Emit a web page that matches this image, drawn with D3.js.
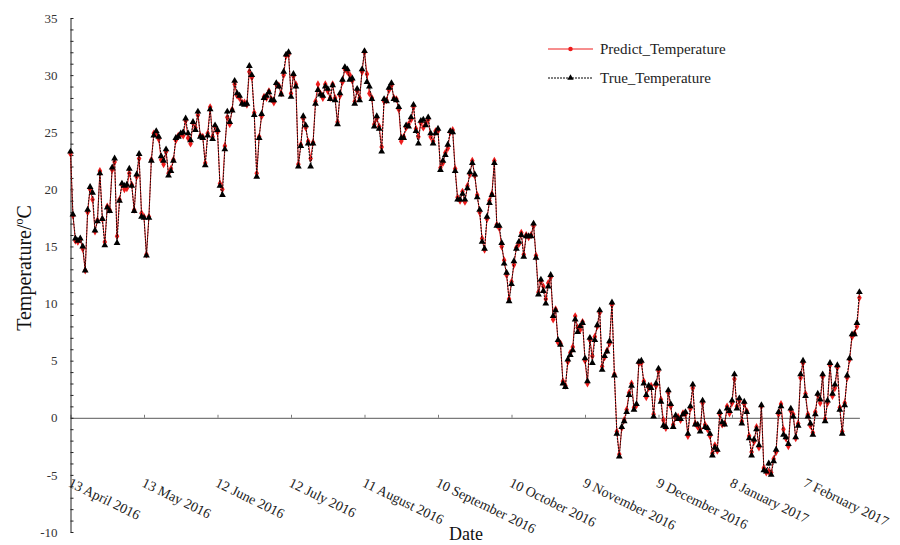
<!DOCTYPE html>
<html>
<head>
<meta charset="utf-8">
<script src="https://cdn.jsdelivr.net/npm/d3@7"></script>
<style>
  body { margin: 0; background: #fff; }
  svg { display: block; }
  text { font-family: "Liberation Serif", "Times New Roman", serif; }
</style>
</head>
<body>
<svg id="chart" width="900" height="545"></svg>
<script>
// Daily series starting on this date
const startDate = "2016-04-13";

const trueTemperature = [
  23.3, 17.8, 15.7, 15.5, 15.7, 15.0, 12.9, 18.2, 20.2, 19.7,
  16.4, 17.2, 21.4, 17.4, 15.1, 18.4, 18.1, 21.9, 22.7, 15.3,
  19.0, 20.5, 20.3, 20.4, 21.8, 20.3, 18.1, 21.3, 23.1, 17.6,
  17.5, 14.2, 17.5, 22.5, 24.7, 25.1, 24.6, 22.9, 22.5, 23.5,
  21.2, 21.6, 22.5, 24.5, 24.6, 24.9, 25.0, 26.2, 24.9, 24.3,
  25.9, 25.2, 26.8, 24.6, 24.5, 22.1, 24.7, 27.0, 24.4, 25.6,
  25.2, 20.3, 19.5, 23.5, 26.8, 25.9, 26.9, 29.5, 28.4, 28.2,
  27.5, 27.4, 27.5, 30.8, 30.0, 26.5, 21.1, 24.5, 26.6, 28.0,
  28.2, 28.5, 27.8, 27.8, 29.3, 29.0, 28.3, 30.3, 31.8, 32.0,
  28.1, 30.1, 29.0, 22.0, 23.8, 26.4, 25.6, 24.0, 22.0, 24.0,
  27.5, 28.7, 28.3, 28.2, 29.0, 28.8, 27.9, 29.1, 27.8, 25.7,
  28.4, 29.6, 30.7, 30.5, 29.6, 29.7, 27.5, 28.8, 27.8, 30.5,
  32.1, 29.4, 29.0, 27.9, 25.5, 26.4, 25.3, 23.3, 27.9, 27.7,
  28.9, 29.3, 27.9, 27.8, 27.2, 24.5, 24.5, 25.6, 25.5, 26.3,
  27.4, 25.1, 24.0, 26.0, 26.1, 25.6, 26.3, 24.9, 24.0, 24.9,
  25.3, 21.7, 22.5, 23.0, 23.9, 25.1, 25.0, 21.6, 19.1, 19.1,
  19.6, 19.1, 20.1, 21.5, 22.3, 21.3, 19.3, 18.2, 15.4, 14.8,
  17.6, 18.8, 19.5, 22.3, 16.8, 16.8, 15.3, 13.5, 12.7, 10.2,
  11.7, 13.7, 14.8, 15.4, 16.0, 14.1, 15.9, 15.9, 15.9, 17.0,
  14.0, 10.8, 12.1, 11.1, 10.0, 11.5, 12.5, 8.9, 9.4, 6.8,
  6.4, 3.0, 2.7, 5.1, 5.5, 5.9, 8.6, 7.5, 8.0, 8.3,
  5.2, 3.2, 7.0, 4.8, 6.8, 8.1, 9.4, 4.2, 5.4, 5.8,
  6.7, 10.1, 3.7, -1.4, -3.4, -0.8, -0.3, 0.5, 2.0, 2.8,
  0.7, 1.2, 4.9, 5.0, 3.0, 2.0, 2.8, 2.6, 0.1, 3.0,
  4.3, 1.4, -0.7, -0.8, 2.4, 1.2, -0.8, 0.2, -0.1, -0.1,
  0.3, 0.5, -1.4, 1.0, 2.9, -0.6, -0.6, -1.2, 1.5, -0.8,
  -0.9, -1.4, -3.3, -2.6, -2.8, 0.5, -0.4, -0.6, 0.8, 0.6,
  1.5, 3.8, 0.8, 1.7, -0.5, 1.4, 0.5, -1.8, -3.3, -1.9,
  -1.0, -2.4, 1.1, -4.6, -4.7, -4.0, -5.0, -3.8, -2.8, 0.5,
  1.0, -1.5, -1.7, -2.3, 0.8, 0.1, -1.7, -0.7, 3.8, 5.0,
  1.9, 0.1, -0.5, -1.5, 0.3, 2.1, 1.6, 3.8, -0.3, 1.5,
  4.8, 2.1, 2.9, 4.6, 0.7, -1.4, 1.1, 3.7, 5.2, 7.3,
  7.3, 8.3, 11.0
];

const predictTemperature = [
  23.1, 17.7, 15.5, 15.4, 15.6, 14.8, 12.9, 18.0, 20.0, 19.1,
  16.3, 17.3, 21.6, 17.4, 15.4, 18.5, 18.2, 21.7, 22.4, 15.9,
  19.1, 20.4, 20.0, 20.1, 21.4, 20.4, 18.2, 21.1, 22.7, 17.9,
  17.6, 14.3, 17.6, 22.6, 24.9, 24.8, 24.4, 22.6, 22.2, 23.3,
  21.4, 21.8, 22.6, 24.3, 24.7, 24.8, 24.7, 26.0, 24.5, 24.0,
  25.8, 25.4, 26.5, 24.7, 24.6, 22.3, 24.9, 27.2, 24.6, 25.5,
  25.0, 20.5, 20.0, 23.8, 26.3, 25.7, 27.0, 29.2, 28.2, 28.0,
  27.6, 27.6, 27.4, 30.3, 29.8, 26.7, 21.4, 24.6, 26.4, 28.1,
  28.0, 28.6, 27.9, 27.6, 29.2, 29.1, 28.4, 30.0, 31.7, 31.8,
  28.4, 29.9, 29.2, 22.2, 23.9, 26.2, 25.4, 24.2, 22.7, 24.1,
  27.7, 29.2, 28.4, 28.0, 29.2, 28.6, 28.0, 29.2, 28.0, 25.9,
  28.2, 29.4, 30.5, 30.3, 30.0, 29.5, 27.7, 28.6, 28.0, 30.3,
  32.0, 30.1, 28.4, 28.0, 25.7, 26.2, 25.5, 23.7, 27.7, 27.8,
  28.7, 29.1, 28.0, 27.9, 27.0, 24.2, 24.6, 25.4, 25.7, 26.1,
  27.2, 25.3, 24.6, 25.8, 25.4, 25.8, 26.1, 24.6, 24.2, 25.1,
  25.1, 21.9, 22.3, 23.2, 23.6, 25.0, 25.2, 21.8, 19.3, 19.0,
  19.8, 18.9, 20.3, 21.3, 22.5, 21.2, 19.5, 18.0, 15.7, 14.7,
  17.4, 19.0, 19.6, 22.5, 16.9, 16.6, 15.0, 13.8, 12.5, 10.4,
  11.9, 13.4, 14.9, 15.2, 16.2, 14.3, 16.0, 15.8, 16.0, 16.8,
  14.2, 11.0, 11.9, 11.5, 10.4, 11.8, 12.3, 8.6, 9.5, 6.6,
  6.5, 3.2, 2.8, 4.9, 5.7, 6.2, 8.9, 7.9, 7.7, 8.4,
  5.0, 3.0, 6.8, 5.4, 7.1, 8.0, 9.2, 4.5, 5.3, 5.9,
  6.5, 9.9, 3.8, -1.2, -3.2, -0.9, -0.2, 0.7, 2.2, 3.0,
  0.9, 1.1, 4.8, 4.8, 3.2, 1.8, 2.6, 2.8, 0.3, 2.8,
  4.1, 1.6, -0.2, -0.9, 2.2, 1.0, -0.6, 0.0, 0.1, -0.2,
  0.4, 0.3, -1.6, 0.8, 2.6, -0.5, -0.8, -1.0, 1.3, -0.6,
  -1.0, -1.6, -3.1, -2.4, -2.9, 0.3, -0.6, -0.5, 1.0, 0.4,
  1.3, 3.4, 1.0, 1.5, -0.3, 1.2, 0.6, -1.6, -3.0, -2.1,
  -0.8, -2.6, 1.0, -4.4, -4.8, -4.7, -4.8, -3.6, -3.0, 0.3,
  1.2, -1.0, -1.8, -2.5, 0.6, 0.3, -1.8, -0.5, 3.5, 4.8,
  2.1, 0.3, -0.7, -1.3, 0.5, 2.0, 1.3, 3.6, -0.1, 1.3,
  4.6, 1.9, 2.6, 4.4, 0.9, -1.2, 1.3, 3.5, 5.1, 7.1,
  7.4, 8.0, 10.5
];

const dateTickLabels = [
  "13 April 2016", "13 May 2016", "12 June 2016", "12 July 2016",
  "11 August 2016", "10 September 2016", "10 October 2016",
  "9 November 2016", "9 December 2016", "8 January 2017", "7 February 2017"
];

const yTickValues = [-10, -5, 0, 5, 10, 15, 20, 25, 30, 35];

const seriesNames = ["Predict_Temperature", "True_Temperature"];

// ---- setup ----
const svg = d3.select("#chart");
const t0 = d3.utcParse("%Y-%m-%d")(startDate);
const parseTick = d3.utcParse("%d %B %Y");
const dates = trueTemperature.map((_, i) => d3.utcDay.offset(t0, i));
const tickDates = dateTickLabels.map(parseTick);

const x = d3.scaleUtc()
  .domain([dates[0], dates[dates.length - 1]])
  .range([70.5, 859.4]);
const y = d3.scaleLinear().domain([-10, 35]).range([532, 18]);

const red = "#ee1c1c";

// ---- zero line with date ticks ----
const zeroAxis = svg.append("g")
  .attr("transform", `translate(0,${y(0)})`)
  .call(d3.axisBottom(x).tickValues(tickDates).tickSize(-3).tickSizeOuter(0).tickFormat(""));
zeroAxis.select(".domain").attr("stroke", "#7a7a7a").attr("stroke-width", 1.2);
zeroAxis.selectAll(".tick line").attr("stroke", "#7a7a7a");

// date labels, slanted below the plot
svg.append("g").selectAll("text")
  .data(dateTickLabels)
  .join("text")
  .attr("transform", (d, i) => `translate(${x(tickDates[i]) - 3},486) rotate(26)`)
  .attr("font-size", 14)
  .attr("fill", "#222")
  .text(d => d);

// ---- y axis ----
const yMinor = svg.append("g")
  .attr("transform", "translate(70.5,0)")
  .call(d3.axisRight(y).tickValues(d3.range(-10, 36, 1)).tickSize(3).tickSizeOuter(0).tickFormat(""));
yMinor.select(".domain").attr("stroke", "#222");
yMinor.selectAll(".tick line").attr("stroke", "#222");

const yLabels = svg.append("g")
  .attr("transform", "translate(70.5,0)")
  .call(d3.axisLeft(y).tickValues(yTickValues).tickSize(0).tickPadding(13)
    .tickFormat(d => String(d)));
yLabels.select(".domain").remove();
yLabels.selectAll("text")
  .attr("font-size", 13)
  .attr("fill", "#333");

// axis titles
const yTitle = svg.append("text")
  .attr("transform", "translate(31,268) rotate(-90)")
  .attr("text-anchor", "middle")
  .attr("font-size", 20)
  .attr("fill", "#111");
yTitle.append("tspan").text("Temperature/");
yTitle.append("tspan").attr("font-size", 12).attr("dy", -8).text("o");
yTitle.append("tspan").attr("dy", 8).text("C");

svg.append("text")
  .attr("x", 466).attr("y", 540)
  .attr("text-anchor", "middle")
  .attr("font-size", 18)
  .attr("fill", "#111")
  .text("Date");

// ---- series ----
const predPts = predictTemperature.map((v, i) => ({ date: dates[i], v }));
const truePts = trueTemperature.map((v, i) => ({ date: dates[i], v }));
const line = d3.line().x(d => x(d.date)).y(d => y(d.v));

svg.append("path")
  .datum(predPts)
  .attr("fill", "none")
  .attr("stroke", red)
  .attr("stroke-width", 1)
  .attr("d", line);

const diamond = d3.symbol().type(d3.symbolDiamond).size(18);
const triangle = d3.symbol().type(d3.symbolTriangle).size(20);

svg.append("g").selectAll("path")
  .data(predPts)
  .join("path")
  .attr("transform", d => `translate(${x(d.date)},${y(d.v)})`)
  .attr("fill", red)
  .attr("d", diamond);

svg.append("path")
  .datum(truePts)
  .attr("fill", "none")
  .attr("stroke", "#000")
  .attr("stroke-width", 0.9)
  .attr("stroke-dasharray", "2,1")
  .attr("d", line);

svg.append("g").selectAll("path")
  .data(truePts)
  .join("path")
  .attr("transform", d => `translate(${x(d.date)},${y(d.v)})`)
  .attr("fill", "#000")
  .attr("d", triangle);

// ---- legend ----
const legend = svg.append("g");
const legendRows = [
  { name: seriesNames[0], color: red, dash: null, symbol: d3.symbol().type(d3.symbolCircle).size(16), y: 49 },
  { name: seriesNames[1], color: "#000", dash: "2,1", symbol: d3.symbol().type(d3.symbolTriangle).size(18), y: 78 }
];
legendRows.forEach(r => {
  legend.append("line")
    .attr("x1", 548).attr("x2", 593).attr("y1", r.y).attr("y2", r.y)
    .attr("stroke", r.color).attr("stroke-width", 1)
    .attr("stroke-dasharray", r.dash);
  legend.append("path")
    .attr("transform", `translate(570.5,${r.y})`)
    .attr("fill", r.color)
    .attr("d", r.symbol());
  legend.append("text")
    .attr("x", 600).attr("y", r.y + 5)
    .attr("font-size", 15)
    .attr("fill", "#222")
    .text(r.name);
});
</script>
</body>
</html>
